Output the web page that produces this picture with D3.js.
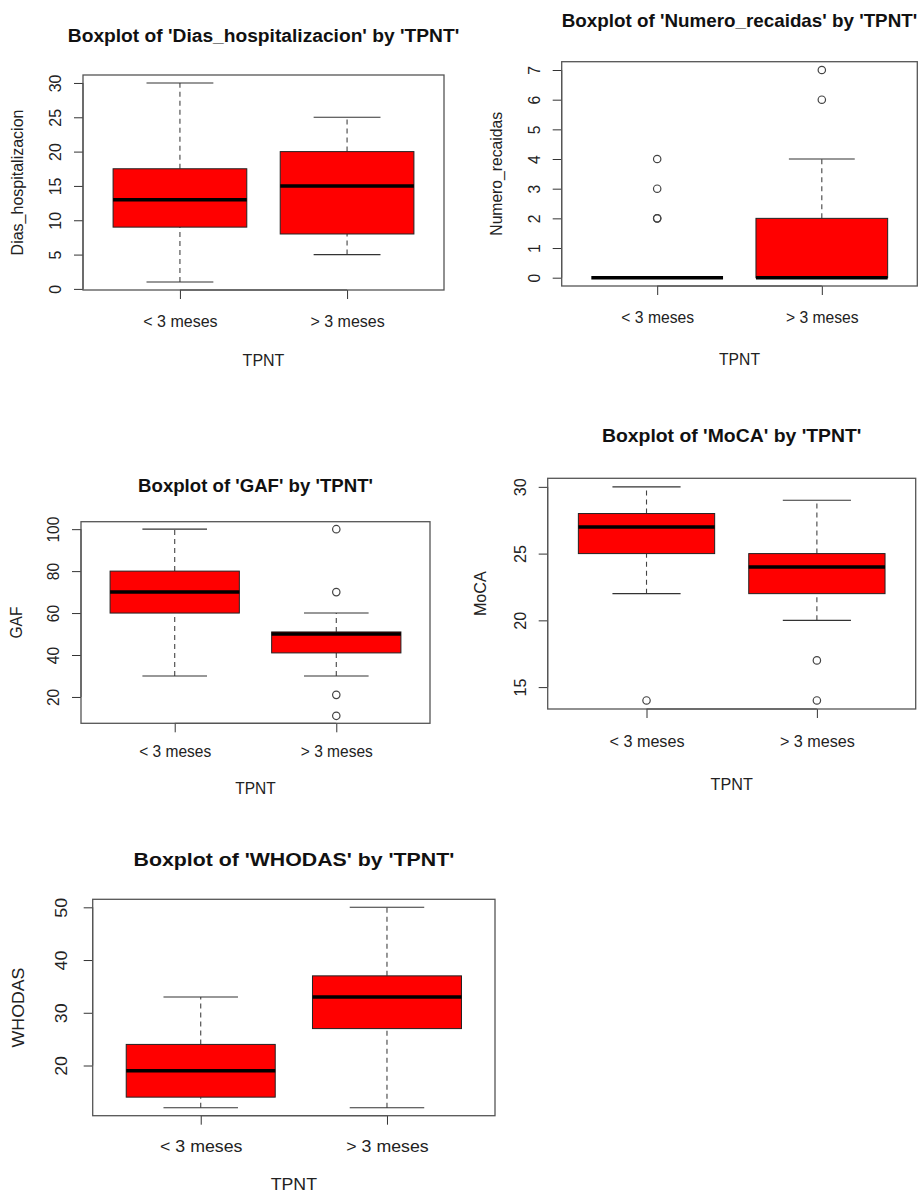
<!DOCTYPE html>
<html>
<head>
<meta charset="utf-8">
<script src="https://cdn.jsdelivr.net/npm/d3@7"></script>
<style>
  body { margin: 0; background: #fff; }
  svg { display: block; }
  text { font-family: "Liberation Sans", Arial, Helvetica, sans-serif; fill: #222; }
</style>
</head>
<body>
<div id="chart"></div>
<script>
// groups on the x axis
const groups = ["< 3 meses", "> 3 meses"];

// [lower whisker, Q1, median, Q3, upper whisker] per group
const diasStats = [[1, 9, 13, 17.5, 30], [5, 8, 15, 20, 25]];
const diasOutliers = [[], []];
const diasTicks = [0, 5, 10, 15, 20, 25, 30];

const recaidasStats = [[0, 0, 0, 0, 0], [0, 0, 0, 2, 4]];
const recaidasOutliers = [[2, 2, 3, 4], [6, 7]];
const recaidasTicks = [0, 1, 2, 3, 4, 5, 6, 7];

const gafStats = [[30, 60, 70, 80, 100], [30, 41, 50, 51, 60]];
const gafOutliers = [[], [11, 21, 70, 100]];
const gafTicks = [20, 40, 60, 80, 100];

const mocaStats = [[22, 25, 27, 28, 30], [20, 22, 24, 25, 29]];
const mocaOutliers = [[14], [14, 17]];
const mocaTicks = [15, 20, 25, 30];

const whodasStats = [[12, 14, 19, 24, 33], [12, 27, 33, 37, 50]];
const whodasOutliers = [[], []];
const whodasTicks = [20, 30, 40, 50];

const panels = [
  {name: "Dias_hospitalizacion", stats: diasStats, out: diasOutliers, ticks: diasTicks,
   box: {l: 83, t: 75, r: 444, b: 290}, sx: 1.0, off: {title: 40, xt: 31.7, xl: 70.7, yt: 28, yl: 66}},
  {name: "Numero_recaidas", stats: recaidasStats, out: recaidasOutliers, ticks: recaidasTicks,
   box: {l: 561.7, t: 61.7, r: 917.3, b: 286}, sx: 0.98, off: {title: 41, xt: 31.3, xl: 73.3, yt: 27.7, yl: 65}},
  {name: "GAF", stats: gafStats, out: gafOutliers, ticks: gafTicks,
   box: {l: 81, t: 521.7, r: 430, b: 723.3}, sx: 0.97, off: {title: 36.7, xt: 28.4, xl: 65, yt: 27.7, yl: 65}},
  {name: "MoCA", stats: mocaStats, out: mocaOutliers, ticks: mocaTicks,
   box: {l: 547.7, t: 478.3, r: 915.7, b: 709}, sx: 1.01, off: {title: 43.3, xt: 32.7, xl: 75.3, yt: 27.7, yl: 67}},
  {name: "WHODAS", stats: whodasStats, out: whodasOutliers, ticks: whodasTicks,
   box: {l: 92.7, t: 899.3, r: 495, b: 1115.7}, sx: 1.11, off: {title: 40.3, xt: 31, xl: 68.5, yt: 31, yl: 74.4}}
];

const width = 918, height = 1194;
const fs = 16;

const svg = d3.select("#chart").append("svg")
  .attr("width", width)
  .attr("height", height);

svg.append("rect").attr("width", width).attr("height", height).attr("fill", "#fff");

panels.forEach(p => {
  const g = svg.append("g");
  const b = p.box;

  // R style: data range padded by 4%
  const all = p.stats.flat().concat(p.out.flat());
  const [lo, hi] = d3.extent(all);
  const pad = (hi - lo) * 0.04;
  const y = d3.scaleLinear().domain([lo - pad, hi + pad]).range([b.b, b.t]);
  const x = d3.scalePoint().domain(groups).range([b.l, b.r]).padding(0.58);
  const step = x.step();
  const bw = step * 0.8;

  // y axis
  const ya = g.append("g")
    .attr("transform", `translate(${b.l},0)`)
    .call(d3.axisLeft(y).tickValues(p.ticks).tickSize(9).tickSizeOuter(0));
  ya.select(".domain").remove();
  ya.selectAll(".tick line").attr("stroke", "#333");
  ya.selectAll(".tick text")
    .attr("x", 0)
    .attr("transform", `translate(${-p.off.yt},0) rotate(-90) scale(${p.sx},1)`)
    .attr("text-anchor", "middle")
    .attr("dy", "0.35em")
    .style("font-size", fs + "px")
    .style("fill", "#222");
  const tk = d3.extent(p.ticks);
  g.append("line")
    .attr("x1", b.l).attr("x2", b.l)
    .attr("y1", y(tk[0])).attr("y2", y(tk[1]))
    .attr("stroke", "#333").attr("stroke-width", 1);

  // x axis
  const xa = g.append("g")
    .attr("transform", `translate(0,${b.b})`)
    .call(d3.axisBottom(x).tickSize(9).tickSizeOuter(0));
  xa.select(".domain").remove();
  xa.selectAll(".tick line").attr("stroke", "#333");
  xa.selectAll(".tick text")
    .attr("y", 0)
    .attr("transform", `translate(0,${p.off.xt}) scale(${p.sx},1)`)
    .attr("dy", "0.35em")
    .style("font-size", fs + "px")
    .style("fill", "#222");
  g.append("line")
    .attr("x1", x(groups[0])).attr("x2", x(groups[groups.length - 1]))
    .attr("y1", b.b).attr("y2", b.b)
    .attr("stroke", "#333").attr("stroke-width", 1);

  // boxes
  const data = groups.map((k, i) => ({k, s: p.stats[i], o: p.out[i]}));
  const bx = g.selectAll(".bx").data(data).enter().append("g");

  // whiskers (dashed)
  bx.append("line")
    .attr("x1", d => x(d.k)).attr("x2", d => x(d.k))
    .attr("y1", d => y(d.s[0])).attr("y2", d => y(d.s[1]))
    .attr("stroke", "#444").attr("stroke-width", 1.1).attr("stroke-dasharray", "5,4");
  bx.append("line")
    .attr("x1", d => x(d.k)).attr("x2", d => x(d.k))
    .attr("y1", d => y(d.s[3])).attr("y2", d => y(d.s[4]))
    .attr("stroke", "#444").attr("stroke-width", 1.1).attr("stroke-dasharray", "5,4");
  // staples
  [0, 4].forEach(j => {
    bx.append("line")
      .attr("x1", d => x(d.k) - bw / 4).attr("x2", d => x(d.k) + bw / 4)
      .attr("y1", d => y(d.s[j])).attr("y2", d => y(d.s[j]))
      .attr("stroke", "#333").attr("stroke-width", 1.1);
  });
  bx.append("rect")
    .attr("x", d => x(d.k) - bw / 2)
    .attr("width", bw)
    .attr("y", d => y(d.s[3]))
    .attr("height", d => y(d.s[1]) - y(d.s[3]))
    .attr("fill", "#ff0000")
    .attr("stroke", "#222").attr("stroke-width", 1);
  bx.append("line")
    .attr("x1", d => x(d.k) - bw / 2).attr("x2", d => x(d.k) + bw / 2)
    .attr("y1", d => y(d.s[2])).attr("y2", d => y(d.s[2]))
    .attr("stroke", "#000").attr("stroke-width", 3.5);

  // outliers
  bx.selectAll("circle").data(d => d.o.map(v => ({k: d.k, v}))).enter().append("circle")
    .attr("cx", d => x(d.k)).attr("cy", d => y(d.v))
    .attr("r", 3.7)
    .attr("fill", "none").attr("stroke", "#444").attr("stroke-width", 1.2);

  // frame
  g.append("rect")
    .attr("x", b.l).attr("y", b.t)
    .attr("width", b.r - b.l).attr("height", b.b - b.t)
    .attr("fill", "none").attr("stroke", "#555").attr("stroke-width", 1.3);

  // title and axis labels
  const cx = (b.l + b.r) / 2, cy = (b.t + b.b) / 2;
  g.append("text")
    .attr("transform", `translate(${cx},${b.t - p.off.title}) scale(${p.sx},1)`)
    .attr("text-anchor", "middle").attr("dy", "0.35em")
    .style("font-size", (fs * 1.2) + "px").style("font-weight", "bold").style("fill", "#111")
    .text(`Boxplot of '${p.name}' by 'TPNT'`);
  g.append("text")
    .attr("transform", `translate(${cx},${b.b + p.off.xl}) scale(${p.sx},1)`)
    .attr("text-anchor", "middle").attr("dy", "0.35em")
    .style("font-size", fs + "px")
    .text("TPNT");
  g.append("text")
    .attr("transform", `translate(${b.l - p.off.yl},${cy}) rotate(-90) scale(${p.sx},1)`)
    .attr("text-anchor", "middle").attr("dy", "0.35em")
    .style("font-size", fs + "px")
    .text(p.name);
});
</script>
</body>
</html>
